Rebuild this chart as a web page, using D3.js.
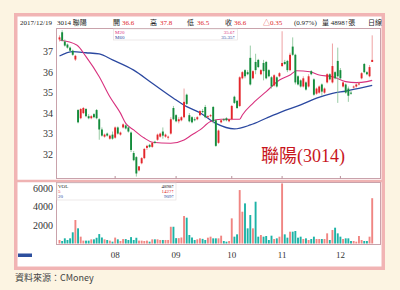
<!DOCTYPE html>
<html>
<head>
<meta charset="utf-8">
<script src="https://cdn.jsdelivr.net/npm/d3@7"></script>
<style>
  body { margin: 0; background: #fcf4e2; }
  svg { display: block; }
</style>
</head>
<body>
<svg id="chart" width="400" height="290"></svg>
<script>
// daily candles, 2017/07 - 2017/12/19
let open = [
  37.6, 37.95, 37.5, 37.35, 37.2, 37.05, 36.62, 34.15, 33.75, 34.0,
  34.2, 33.85, 33.75, 33.95, 34.15, 33.7, 33.2, 32.85, 33.0, 32.75,
  32.95, 32.8, 33.3, 32.95, 33.3, 33.4, 33.3, 33.05, 32.05, 31.85,
  31.2, 31.55, 31.8, 32.3, 32.45, 32.35, 32.6, 32.7, 32.85, 33.1,
  32.85, 32.8, 33.0, 34.25, 33.9, 33.6, 33.65, 33.8, 34.9, 33.9,
  33.8, 33.7, 33.7, 33.9, 34.1, 34.3, 33.8, 33.85, 34.3, 33.65,
  32.55, 33.55, 33.7, 33.75, 33.6, 33.7, 34.8, 34.6, 34.35, 35.7,
  36.1, 36.0, 36.7, 35.7, 36.5, 36.6, 35.9, 36.45, 36.5, 36.1,
  35.75, 35.35, 35.75, 35.8, 36.3, 36.5, 36.55, 36.1, 37.25, 36.85,
  35.8, 35.6, 35.3, 35.5, 35.3, 36.05, 35.65, 34.95, 35.0, 35.4,
  35.0, 35.5, 35.9, 35.5, 36.0, 36.55, 36.1, 35.3, 35.4, 35.2,
  35.0, 35.25, 35.3, 35.4, 35.7, 36.4, 36.0, 35.8, 36.5
];
let close = [
  37.7, 37.55, 37.3, 37.2, 37.05, 36.85, 36.8, 33.55, 34.2, 34.25,
  33.85, 33.75, 33.85, 33.8, 33.75, 33.2, 32.9, 32.95, 32.9, 32.9,
  32.75, 33.3, 33.0, 33.05, 33.45, 33.25, 33.1, 32.2, 31.7, 31.05,
  31.4, 31.8, 32.25, 32.4, 32.35, 32.55, 32.55, 32.95, 33.0, 32.9,
  32.95, 32.85, 33.7, 33.7, 33.6, 33.7, 33.8, 34.55, 34.45, 33.6,
  33.55, 33.65, 33.8, 34.1, 34.05, 33.8, 33.85, 33.9, 33.6, 32.4,
  33.15, 33.65, 33.65, 33.65, 33.7, 34.35, 34.5, 34.25, 35.75, 36.0,
  35.8, 35.9, 35.4, 36.05, 36.1, 36.25, 36.1, 36.05, 35.7, 35.8,
  35.3, 35.85, 35.3, 35.95, 36.45, 36.4, 36.1, 36.85, 36.85, 35.5,
  35.4, 35.3, 35.7, 35.15, 35.8, 35.9, 34.9, 35.2, 35.3, 35.05,
  35.2, 35.9, 35.65, 36.3, 35.7, 35.8, 35.7, 35.5, 35.0, 34.85,
  34.95, 35.3, 35.4, 35.45, 35.95, 36.0, 35.9, 36.25, 36.6
];
let high = [
  37.8, 38.05, 37.6, 37.4, 37.25, 37.1, 36.85, 34.2, 34.25, 34.3,
  34.25, 33.95, 33.9, 34.0, 34.2, 33.75, 33.3, 33.0, 33.05, 32.95,
  33.1, 33.35, 33.35, 33.1, 33.5, 33.45, 33.35, 33.1, 32.15, 31.9,
  31.4, 31.85, 32.3, 32.45, 32.5, 32.6, 32.65, 33.0, 33.05, 33.3,
  33.0, 32.9, 33.8, 34.35, 33.95, 33.8, 33.85, 35.2, 34.95, 34.0,
  33.85, 33.8, 33.85, 34.15, 34.2, 34.4, 33.9, 33.95, 34.35, 33.7,
  33.2, 33.7, 33.75, 33.8, 33.7, 34.4, 34.85, 34.65, 35.8, 36.05,
  36.15, 36.1, 37.3, 36.1, 36.9, 36.65, 36.15, 36.6, 36.55, 36.15,
  35.8, 35.9, 35.8, 36.0, 38.0, 36.6, 36.6, 36.95, 37.7, 36.9,
  35.85, 35.65, 35.8, 35.55, 35.9, 36.1, 35.7, 35.25, 35.35, 35.45,
  35.25, 35.95, 35.95, 37.4, 36.05, 37.2, 36.2, 35.55, 35.45, 35.3,
  35.1, 35.35, 35.45, 35.5, 36.0, 36.45, 36.05, 36.35, 37.8
];
let low = [
  37.5, 37.5, 37.25, 37.15, 37.0, 36.8, 36.55, 33.5, 33.7, 33.95,
  33.8, 33.7, 33.7, 33.75, 33.7, 32.7, 32.85, 32.8, 32.85, 32.7,
  32.7, 32.75, 32.95, 32.9, 33.25, 33.2, 33.05, 32.1, 31.65, 30.9,
  31.15, 31.5, 31.75, 32.2, 32.3, 32.3, 32.5, 32.65, 32.8, 32.75,
  32.8, 32.7, 32.95, 33.65, 33.55, 33.5, 33.6, 33.75, 34.4, 33.55,
  33.5, 33.6, 33.65, 33.85, 34.0, 33.75, 33.75, 33.8, 33.5, 32.35,
  32.5, 33.5, 33.6, 33.6, 33.55, 33.65, 34.45, 34.2, 34.3, 35.65,
  35.7, 35.85, 35.35, 35.65, 35.9, 36.2, 35.85, 35.6, 35.65, 35.75,
  35.2, 35.3, 35.25, 35.75, 36.25, 36.35, 36.0, 36.05, 36.8, 35.4,
  35.35, 35.25, 35.25, 35.1, 35.25, 35.85, 34.85, 34.9, 34.95, 34.85,
  34.95, 35.45, 35.6, 35.45, 35.65, 34.5, 35.65, 35.25, 34.95, 34.55,
  34.9, 35.2, 35.25, 35.35, 35.65, 35.95, 35.85, 35.75, 36.5
];
let volume = [
  380, 270, 560, 380, 560, 1210, 2540, 1640, 740, 310,
  310, 310, 450, 450, 620, 1020, 650, 450, 380, 310,
  200, 640, 450, 270, 480, 480, 380, 690, 380, 620,
  310, 310, 270, 310, 200, 450, 450, 450, 380, 380,
  380, 380, 1810, 1810, 580, 580, 650, 2970, 2790, 920,
  650, 380, 450, 560, 500, 380, 630, 738, 558, 558,
  558, 846, 270, 198, 270, 2718, 738, 990, 5778, 3438,
  4338, 1638, 3078, 1638, 4518, 738, 918, 738, 810, 378,
  846, 486, 558, 738, 6498, 990, 630, 1278, 1278, 1350,
  630, 738, 486, 558, 378, 486, 738, 486, 486, 486,
  486, 1098, 378, 1458, 1710, 1098, 738, 486, 558, 558,
  270, 270, 198, 810, 378, 270, 270, 738, 4898
];

// moving averages, sampled where the lines could be read (day index -> price)
let ma20Idx = [0, 6.5, 10, 15, 19, 23, 25, 28, 32, 35, 42, 47, 50, 53, 57, 61, 68, 69, 73, 78, 83, 87, 89.5, 94.5, 98, 103, 108, 112, 116, 118];
let ma20Val = [37.57, 37.33, 36.76, 35.78, 34.8, 34.0, 33.5, 33.18, 32.78, 32.58, 32.53, 32.69, 32.94, 33.18, 33.59, 33.7, 33.7, 33.91, 34.48, 35.05, 35.62, 35.86, 36.07, 36.02, 35.86, 35.78, 35.54, 35.49, 35.54, 35.6];
let ma60Idx = [0, 5, 10, 15, 20, 28, 35, 43, 48, 53, 59, 66, 72, 78, 84, 91, 97, 103, 108, 113, 118];
let ma60Val = [36.79, 37.0, 36.95, 36.89, 36.6, 36.1, 35.46, 34.73, 34.32, 34.02, 33.5, 33.23, 33.42, 33.75, 34.07, 34.4, 34.73, 34.97, 35.08, 35.21, 35.35];

// axis labels
let monthLabels = ["08", "09", "10", "11", "12"];
let monthStart = [21, 44, 65, 84, 106];
let priceTicks = [32, 33, 34, 35, 36, 37];
let volTicks = [2000, 4000, 6000];

let headerText = [
  ["2017/12/19", "#222"], ["3014 聯陽", "#222"], ["開 ", "#222"], ["36.6", "#e0262b"],
  ["高 ", "#222"], ["37.8", "#e0262b"], ["低 ", "#222"], ["36.5", "#e0262b"],
  ["收 ", "#222"], ["36.6", "#e0262b"], ["△0.35", "#e0262b"], ["(0.97%)", "#222"],
  ["量 4898↑張", "#222"], ["日線", "#222"]
];
let headerX = [20, 57, 113, 122, 150, 160, 187, 197, 225, 234, 263, 294, 322, 368];

let red = "#e3262b", green = "#148c3c";
let volRed = "#f08582", volTeal = "#1db3a6";
let serif = "'Liberation Serif', 'Noto Sans CJK TC', serif";

let svg = d3.select("#chart");

// frame
svg.append("rect")
  .attr("x", 15.75).attr("y", 14.75)
  .attr("width", 367.5).attr("height", 253.5)
  .attr("fill", "#fff")
  .attr("stroke", "#f1b4b4")
  .attr("stroke-width", 3.5);

// scales
let x = d3.scaleLinear().domain([0, 118]).range([59.5, 372.2]);
let y = d3.scaleLinear().domain([30.83, 38.11]).range([178, 29]);
let yv = d3.scaleLinear().domain([0, 6000]).range([243.5, 188]);
let bw = 1.9;

// panels
svg.append("rect")
  .attr("x", 56.5).attr("y", 28.5).attr("width", 324).attr("height", 150)
  .attr("fill", "none").attr("stroke", "#c9a2ab");
svg.append("line")
  .attr("x1", 17).attr("x2", 383).attr("y1", 181).attr("y2", 181)
  .attr("stroke", "#efb3b3").attr("stroke-width", 2.5);
svg.append("rect")
  .attr("x", 56.5).attr("y", 182.5).attr("width", 324).attr("height", 62)
  .attr("fill", "none").attr("stroke", "#c9a2ab");

// header row
svg.append("g")
  .selectAll("text")
  .data(headerText)
  .enter()
  .append("text")
  .attr("x", function (d, i) { return headerX[i]; })
  .attr("y", 24.5)
  .attr("font-family", serif)
  .attr("font-size", 7)
  .attr("fill", function (d) { return d[1]; })
  .text(function (d) { return d[0]; });

// price axis labels
svg.append("g")
  .selectAll("text")
  .data(priceTicks)
  .enter()
  .append("text")
  .attr("x", 53)
  .attr("y", function (d) { return y(d); })
  .attr("dy", "0.35em")
  .attr("text-anchor", "end")
  .attr("font-family", serif)
  .attr("font-size", 10)
  .attr("fill", "#333")
  .text(function (d) { return d; });

// volume axis labels
svg.append("g")
  .selectAll("text")
  .data(volTicks)
  .enter()
  .append("text")
  .attr("x", 53)
  .attr("y", function (d) { return yv(d); })
  .attr("dy", "0.35em")
  .attr("text-anchor", "end")
  .attr("font-family", serif)
  .attr("font-size", 10)
  .attr("fill", "#333")
  .text(function (d) { return d; });

// month ticks + labels
svg.append("g")
  .selectAll("line")
  .data(monthStart)
  .enter()
  .append("line")
  .attr("x1", function (d) { return x(d); })
  .attr("x2", function (d) { return x(d); })
  .attr("y1", 176).attr("y2", 178.5)
  .attr("stroke", "#b9909a");
svg.append("g")
  .selectAll("text")
  .data(monthLabels)
  .enter()
  .append("text")
  .attr("x", function (d, i) { return x(monthStart[i]); })
  .attr("y", 257.5)
  .attr("text-anchor", "middle")
  .attr("font-family", serif)
  .attr("font-size", 9)
  .attr("fill", "#333")
  .text(function (d) { return d; });

let days = d3.range(open.length);
let isUp = function (i) { return close[i] >= open[i]; };

// volume bars
svg.append("g")
  .selectAll("rect")
  .data(days)
  .enter()
  .append("rect")
  .attr("x", function (i) { return x(i) - bw / 2; })
  .attr("width", bw)
  .attr("y", function (i) { return yv(volume[i]); })
  .attr("height", function (i) { return yv(0) - yv(volume[i]); })
  .attr("fill", function (i) { return isUp(i) ? volRed : volTeal; });

// big name label (behind candles)
let nameLabel = svg.append("text")
  .attr("x", 261).attr("y", 162)
  .attr("font-family", serif)
  .attr("font-size", 18)
  .attr("fill", "#c8161d");
nameLabel.append("tspan").attr("font-family", "'Noto Sans CJK TC'").text("聯陽");
nameLabel.append("tspan").text("(3014)");

// MA lines
let ma = d3.line()
  .x(function (d) { return x(d[0]); })
  .y(function (d) { return y(d[1]); })
  .curve(d3.curveMonotoneX);

svg.append("path")
  .datum(d3.zip(ma60Idx, ma60Val))
  .attr("d", ma)
  .attr("fill", "none")
  .attr("stroke", "#2b48a0")
  .attr("stroke-width", 1.3);
svg.append("path")
  .datum(d3.zip(ma20Idx, ma20Val))
  .attr("d", ma)
  .attr("fill", "none")
  .attr("stroke", "#d8317e")
  .attr("stroke-width", 1.1);

// candles
let candles = svg.append("g")
  .selectAll("g")
  .data(days)
  .enter()
  .append("g");
candles.append("line")
  .attr("x1", function (i) { return x(i); })
  .attr("x2", function (i) { return x(i); })
  .attr("y1", function (i) { return y(high[i]); })
  .attr("y2", function (i) { return y(low[i]); })
  .attr("stroke", function (i) { return isUp(i) ? "#eb8a8c" : "#7fbf8f"; })
  .attr("stroke-width", 0.8);
candles.append("rect")
  .attr("x", function (i) { return x(i) - bw / 2; })
  .attr("width", bw)
  .attr("y", function (i) { return y(Math.max(open[i], close[i])); })
  .attr("height", function (i) { return Math.max(0.7, Math.abs(y(open[i]) - y(close[i]))); })
  .attr("fill", function (i) { return isUp(i) ? red : green; });

// MA legend box
svg.append("rect")
  .attr("x", 113.5).attr("y", 29).attr("width", 124).attr("height", 11)
  .attr("fill", "#fff").attr("stroke", "#e2dada").attr("stroke-width", 0.6);
let maLegend = [["M20", "35.6↑", "#d8317e"], ["M60", "35.35↑", "#2b48a0"]];
maLegend.forEach(function (d, i) {
  svg.append("text").attr("x", 115).attr("y", 34 + i * 5)
    .attr("font-family", serif).attr("font-size", 5).attr("fill", d[2]).text(d[0]);
  svg.append("text").attr("x", 235).attr("y", 34 + i * 5).attr("text-anchor", "end")
    .attr("font-family", serif).attr("font-size", 5).attr("fill", d[2]).text(d[1]);
});

// volume legend box
svg.append("rect")
  .attr("x", 57).attr("y", 183).attr("width", 119).attr("height", 17)
  .attr("fill", "#fff").attr("stroke", "#e2dada").attr("stroke-width", 0.6);
let volLegend = [["VOL", "4898↑", "#222"], ["5", "1427↑", "#e0262b"], ["20", "909↑", "#2b48a0"]];
volLegend.forEach(function (d, i) {
  svg.append("text").attr("x", 58).attr("y", 188 + i * 5.2)
    .attr("font-family", serif).attr("font-size", 5).attr("fill", d[2]).text(d[0]);
  svg.append("text").attr("x", 174).attr("y", 188 + i * 5.2).attr("text-anchor", "end")
    .attr("font-family", serif).attr("font-size", 5).attr("fill", d[2]).text(d[1]);
});

// small logo + source line
svg.append("rect")
  .attr("x", 18).attr("y", 253.5).attr("width", 14).attr("height", 3.5)
  .attr("fill", "#2d4f9e");
svg.append("text")
  .attr("x", 15).attr("y", 281)
  .attr("font-family", "'Noto Sans CJK TC', sans-serif")
  .attr("font-size", 9)
  .attr("fill", "#444")
  .text("資料來源：CMoney");
</script>
</body>
</html>
